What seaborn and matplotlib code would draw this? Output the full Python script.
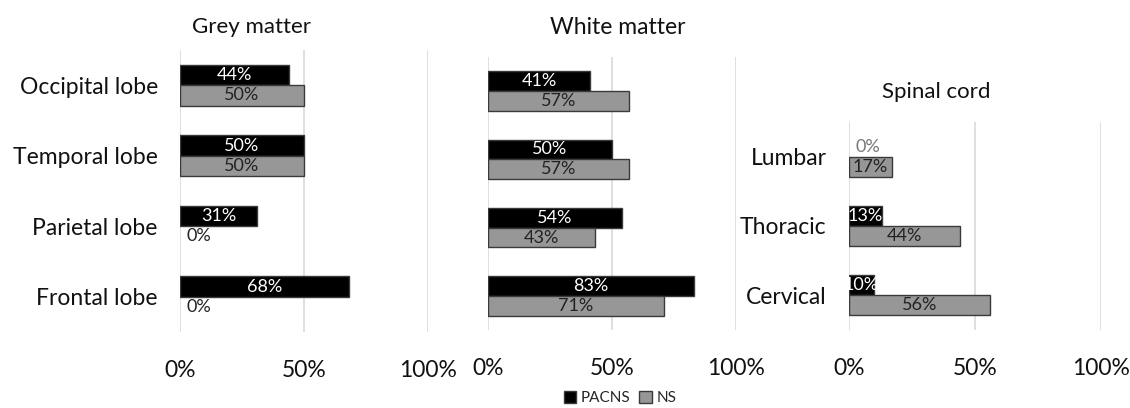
import seaborn as sns
import matplotlib.pyplot as plt
import pandas as pd
from matplotlib.patches import Patch

# data (percent)
brain_regions = ["Occipital lobe", "Temporal lobe", "Parietal lobe", "Frontal lobe"]
grey_pacns = [44, 50, 31, 68]
grey_ns = [50, 50, 0, 0]
white_pacns = [41, 50, 54, 83]
white_ns = [57, 57, 43, 71]
spinal_regions = ["Lumbar", "Thoracic", "Cervical"]
spinal_pacns = [0, 13, 10]
spinal_ns = [17, 44, 56]
groups = ["PACNS", "NS"]
x_ticks = [0, 50, 100]
x_labels = ["0%", "50%", "100%"]

cores = {"PACNS": "#000000", "NS": "#979797"}

sns.set_theme(style="white")
plt.rcParams["font.family"] = ["Lato", "DejaVu Sans"]


def monta(regioes, pacns, ns):
    return pd.DataFrame({
        "Regiao": regioes * 2,
        "Grupo": ["PACNS"] * len(regioes) + ["NS"] * len(regioes),
        "Valor": pacns + ns,
    })


def painel(ax, dados, mostra_y):
    sns.barplot(data=dados, x="Valor", y="Regiao", hue="Grupo", hue_order=groups,
                palette=cores, orient="h", width=0.58, legend=False, ax=ax,
                edgecolor="#3a3a3a", linewidth=1.0)
    ax.set_xlim(0, 100)
    ax.set_xticks(x_ticks)
    ax.set_xticklabels(x_labels)
    ax.set_xlabel("")
    ax.set_ylabel("")
    ax.grid(axis="x", color="#d9d9d9", linewidth=1.2)
    ax.set_axisbelow(True)
    for s in ax.spines.values():
        s.set_visible(False)
    ax.tick_params(axis="x", length=0, pad=20, labelsize=16.5, labelcolor="#111111")
    ax.tick_params(axis="y", length=0, pad=16, labelsize=16.5, labelcolor="#111111")
    if not mostra_y:
        ax.set_yticklabels([])
    # rotulos das barras
    for grupo, cont in zip(groups, ax.containers):
        for barra in cont:
            v = barra.get_width()
            yc = barra.get_y() + barra.get_height() / 2
            if v == 0:
                barra.set_linewidth(0)
                cor = "#222222" if grupo == "NS" else "#777777"
                ax.text(2.5, yc, "0%", ha="left", va="center", fontsize=13, color=cor)
            else:
                cor = "white" if grupo == "PACNS" else "#222222"
                ax.text(v / 2, yc, f"{v:.0f}%", ha="center", va="center",
                        fontsize=13, color=cor)


fig = plt.figure(figsize=(11.3, 4.08), dpi=100)
ax1 = fig.add_axes([0.1593, 0.1863, 0.2195, 0.6912])
ax2 = fig.add_axes([0.4319, 0.1912, 0.2195, 0.6691])
ax3 = fig.add_axes([0.7513, 0.1912, 0.2230, 0.5098])

painel(ax1, monta(brain_regions, grey_pacns, grey_ns), True)
painel(ax2, monta(brain_regions, white_pacns, white_ns), False)
painel(ax3, monta(spinal_regions, spinal_pacns, spinal_ns), True)

fig.text(252 / 1130, 1 - 27 / 408, "Grey matter", ha="center", va="center", fontsize=16, color="#111111")
fig.text(618 / 1130, 1 - 27 / 408, "White matter", ha="center", va="center", fontsize=16.5, color="#111111")
fig.text(936 / 1130, 1 - 92 / 408, "Spinal cord", ha="center", va="center", fontsize=16, color="#111111")

alcas = [Patch(facecolor=cores[g], edgecolor="#3a3a3a") for g in groups]
fig.legend(alcas, groups, loc="center", bbox_to_anchor=(620 / 1130, 1 - 398 / 408),
           ncol=2, frameon=False, fontsize=11, handlelength=0.8, handleheight=0.8,
           handletextpad=0.3, columnspacing=0.6)

fig.savefig("out.png", dpi=100)
